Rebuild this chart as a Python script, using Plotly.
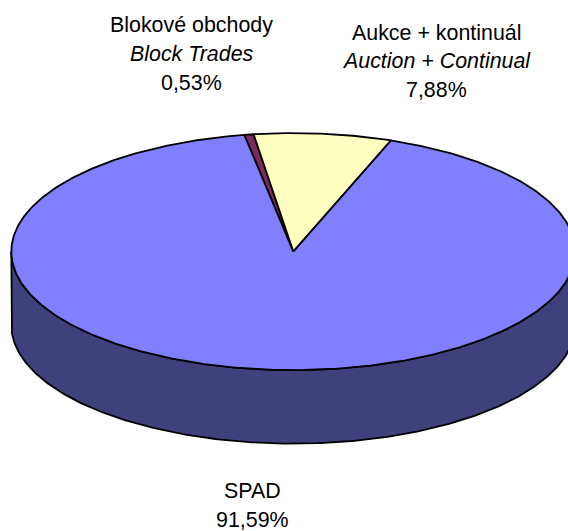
import math
import plotly.graph_objects as go

# ---- data ----
labels_cz = ["Blokové obchody", "Aukce + kontinuál", "SPAD"]
labels_en = ["Block Trades", "Auction + Continual", ""]
shares = [0.53, 7.88, 91.59]

# ---- style / layout ----
top_colors = ["#7E2A5F", "#FFFFC0", "#8080FF"]
side_colors = ["#3F1530", "#80805F", "#40407C"]
label_pos = [(191.5, 25.3), (436.5, 32.7), (252, 491.3)]
LINE_GAP = 28.6
FONT = "Liberation Sans, Arial, sans-serif"
FSIZE = 21.4

W, H = 568, 531
CX, CY = 293.3, 251.6
RX, RY = 282.0, 118.5
DEPTH = 73.5
ROTATION = 350.0  # angle of first slice, clockwise from 12 o'clock
EDGE = dict(color="black", width=1.8)


def pt(theta_deg, dy=0.0):
    t = math.radians(theta_deg)
    return CX + RX * math.sin(t), CY - RY * math.cos(t) + dy


def arc(a0, a1, dy=0.0):
    n = max(2, int(abs(a1 - a0) / 0.5) + 1)
    pts = [pt(a0 + (a1 - a0) * i / (n - 1), dy) for i in range(n)]
    return [p[0] for p in pts], [p[1] for p in pts]


total = sum(shares)
starts, ends = [], []
acc = ROTATION
for v in shares:
    starts.append(acc)
    acc += v / total * 360.0
    ends.append(acc)

fig = go.Figure()

# sides (front half only: 90..270 deg)
for i in range(len(shares)):
    s, e = starts[i], ends[i]
    for off in (0, 360, -360):
        lo = max(s, 90 + off)
        hi = min(e, 270 + off)
        if hi > lo:
            tx, ty = arc(lo, hi)
            bx, by = arc(hi, lo, DEPTH)
            xs = tx + bx + [tx[0]]
            ys = ty + by + [ty[0]]
            fig.add_trace(go.Scatter(x=xs, y=ys, mode="lines", fill="toself",
                                     fillcolor=side_colors[i], line=EDGE,
                                     hoverinfo="skip", showlegend=False))

# tops
for i in range(len(shares)):
    ax, ay = arc(starts[i], ends[i])
    xs = [CX] + ax + [CX]
    ys = [CY] + ay + [CY]
    fig.add_trace(go.Scatter(x=xs, y=ys, mode="lines", fill="toself",
                             fillcolor=top_colors[i], line=EDGE,
                             hoverinfo="skip", showlegend=False))

# labels
for i in range(len(shares)):
    pct = f"{shares[i]:.2f}".replace(".", ",") + "%"
    lines = [labels_cz[i]]
    if labels_en[i]:
        lines.append(f"<i>{labels_en[i]}</i>")
    lines.append(pct)
    lx, ly = label_pos[i]
    for k, txt in enumerate(lines):
        fig.add_annotation(x=lx, y=ly + k * LINE_GAP, xref="x", yref="y",
                           text=txt, showarrow=False, xanchor="center",
                           yanchor="middle",
                           font=dict(family=FONT, size=FSIZE, color="black"))

fig.update_layout(
    width=W, height=H, autosize=False,
    margin=dict(l=0, r=0, t=0, b=0),
    paper_bgcolor="white", plot_bgcolor="white",
    xaxis=dict(range=[0, W], visible=False, fixedrange=True),
    yaxis=dict(range=[H, 0], visible=False, fixedrange=True),
    showlegend=False,
)

fig.write_html("out.html", config={"displayModeBar": False},
               post_script="document.body.style.margin='0';")
